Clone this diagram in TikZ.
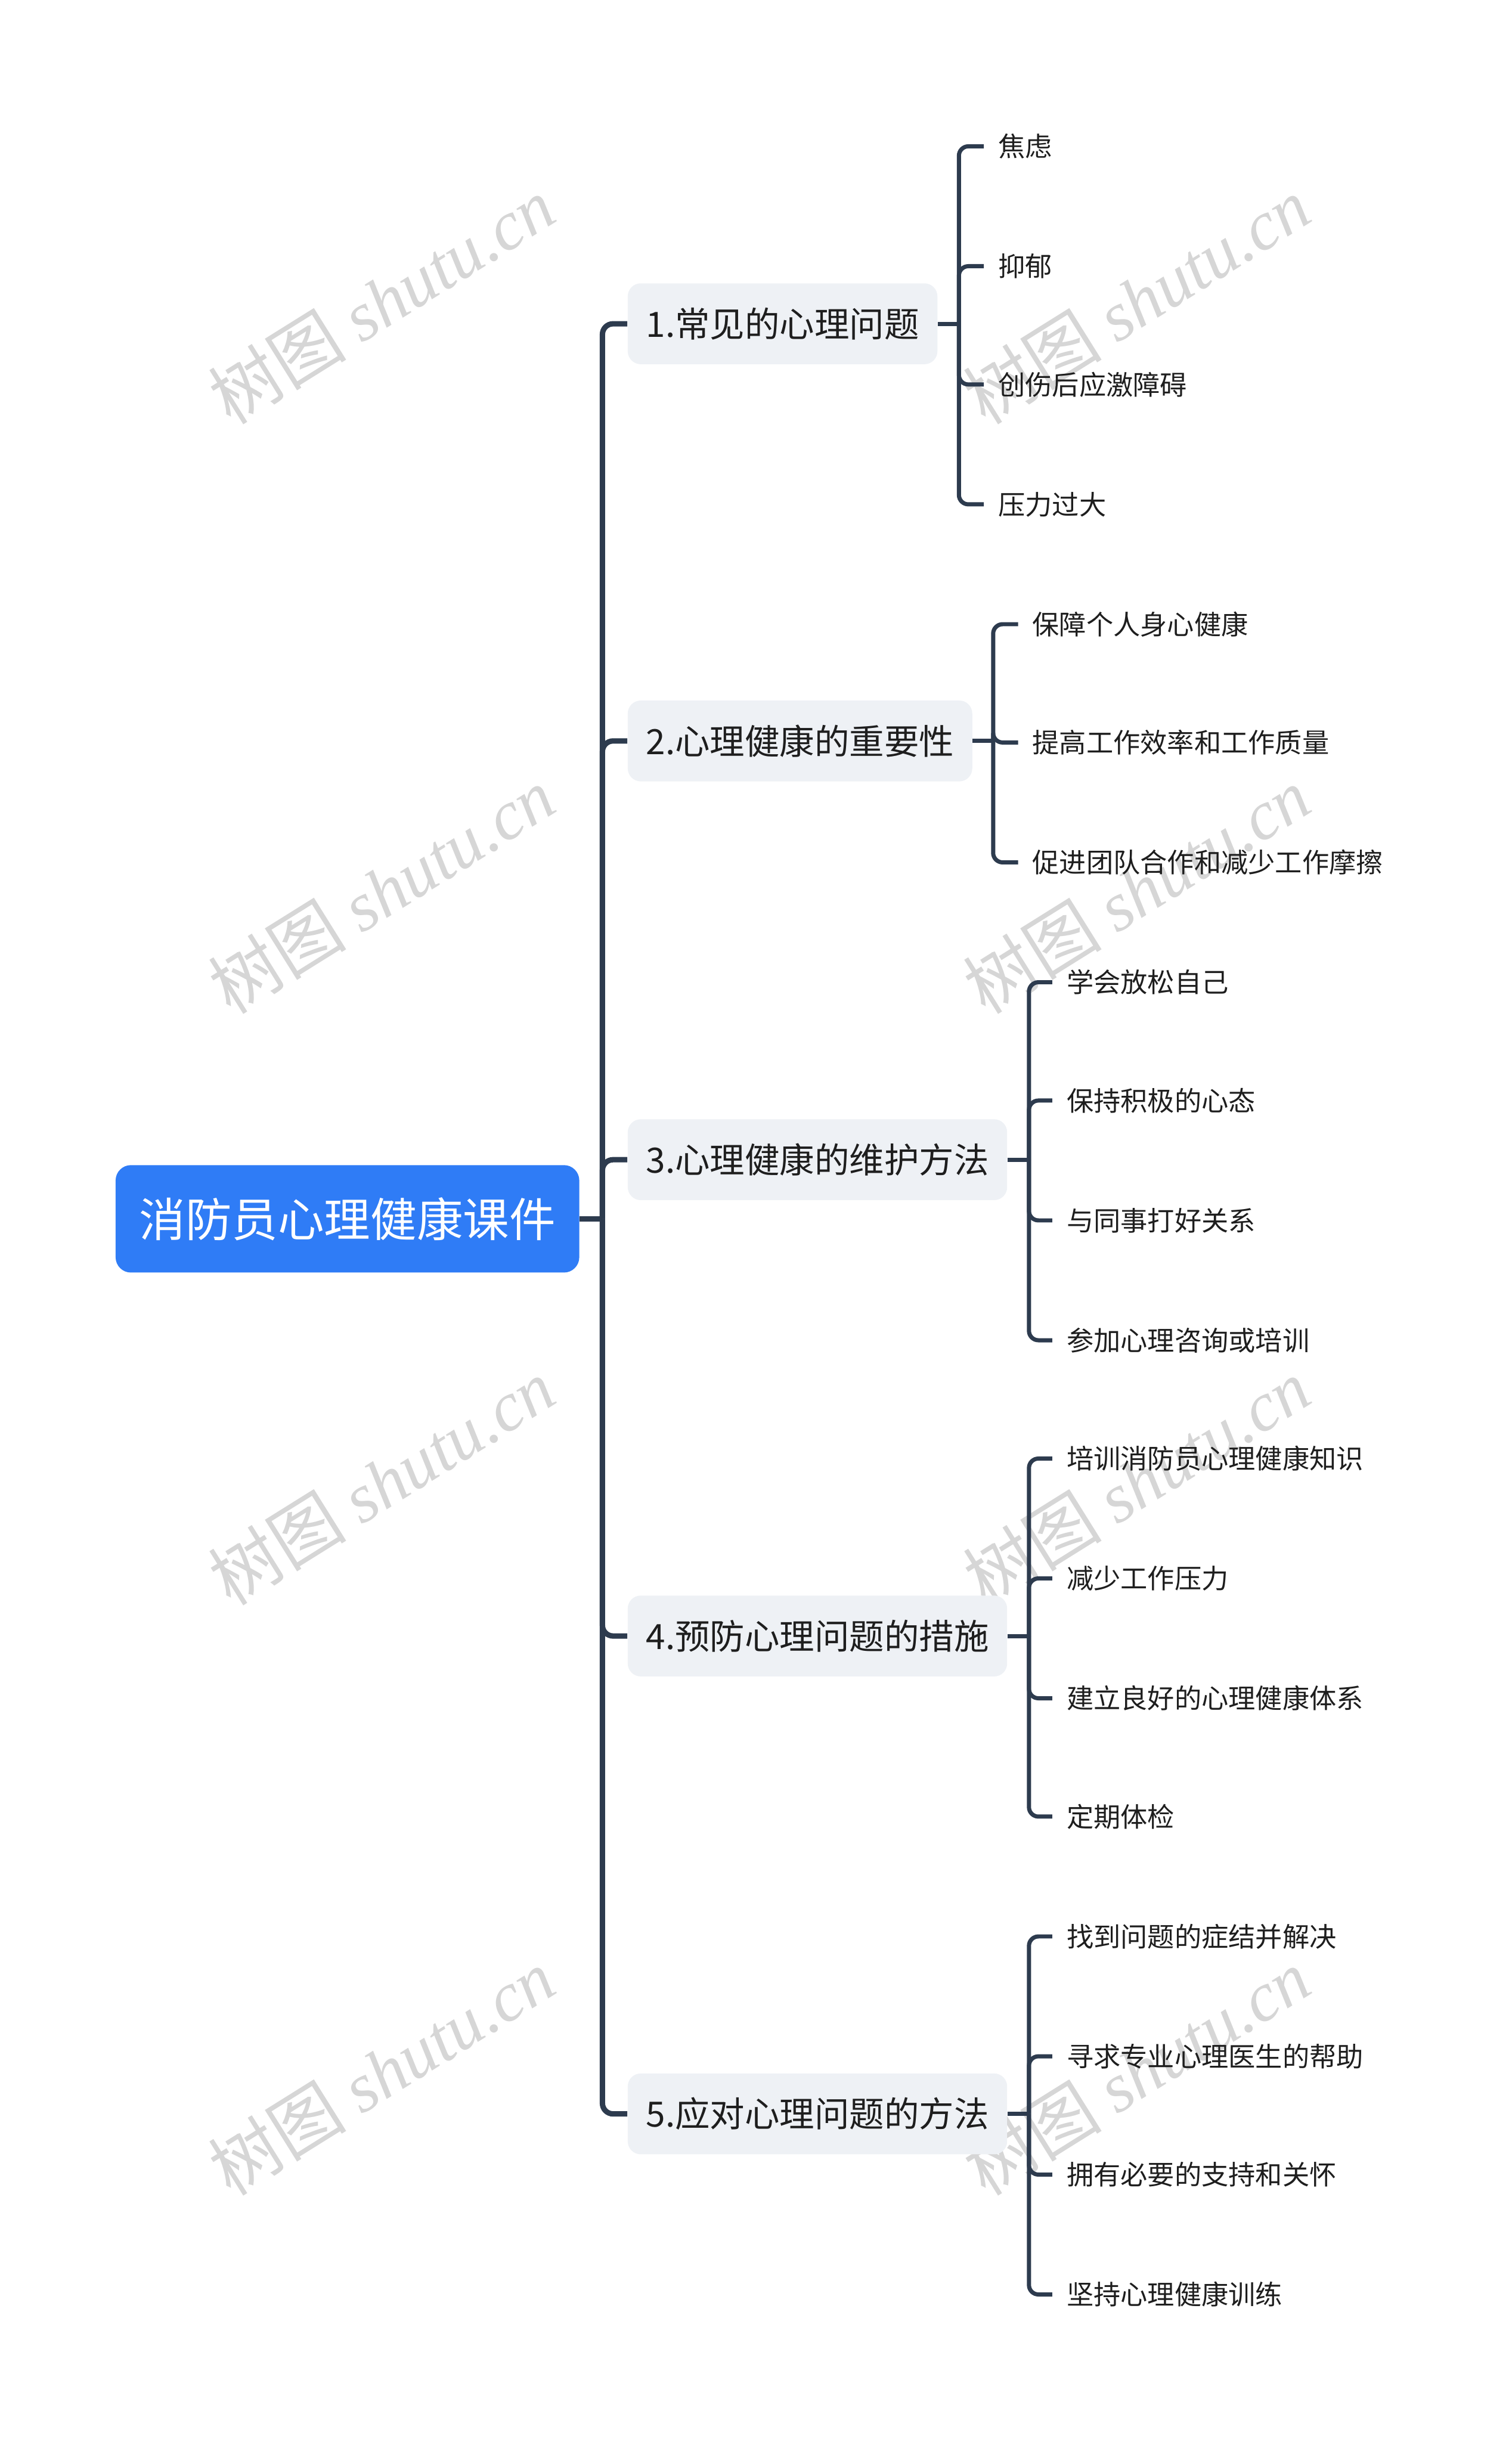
\documentclass[tikz,border=0pt]{standalone}
\usepackage{fontspec}
\setmainfont{Noto Sans CJK SC}
\newfontfamily\wmserif{Liberation Serif}
\definecolor{rootblue}{HTML}{2F7CF6}
\definecolor{branchfill}{HTML}{EEF1F5}
\definecolor{linec}{HTML}{2D3B4E}
\definecolor{txt}{HTML}{1E1E1E}
\definecolor{wmc}{HTML}{D6D6D6}
\begin{document}
\begin{tikzpicture}[x=0.026365cm,y=-0.026365cm,
  rootnode/.style={fill=rootblue, text=white, rounded corners=0.26cm, minimum height=1.82cm, inner xsep=0.4cm, font=\fontsize{22.3}{26}\selectfont, anchor=west},
  branchnode/.style={fill=branchfill, text=txt, rounded corners=0.22cm, minimum height=1.37cm, inner xsep=0.31cm, font=\fontsize{16.8}{20}\selectfont, anchor=west},
  leafnode/.style={text=txt, inner xsep=0.237cm, inner ysep=2pt, font=\fontsize{13}{16}\selectfont, anchor=west},
  trunkline/.style={draw=linec, line width=2.6pt, rounded corners=0.18cm},
  leafline/.style={draw=linec, line width=2pt, rounded corners=0.16cm},
  wm/.style={text=wmc, rotate=32, font=\fontsize{33.5}{38}\selectfont}]
\useasboundingbox (0,0) rectangle (971,1568.8);
% watermarks
\foreach \wx/\wy [count=\i] in {245/193, 245/572, 245/952, 245/1331, 730/193, 730/572, 730/952, 730/1331}{
  \node[wm] (wm\i) at (\wx,\wy) {树图 {\wmserif\itshape shutu.cn}};
}
% root
\node[rootnode] (root) at (74,783) {消防员心理健康课件};
% branches
\node[branchnode] (b1) at (403,208) {1.常见的心理问题};
\node[branchnode] (b2) at (403,476) {2.心理健康的重要性};
\node[branchnode] (b3) at (403,745) {3.心理健康的维护方法};
\node[branchnode] (b4) at (403,1051) {4.预防心理问题的措施};
\node[branchnode] (b5) at (403,1358) {5.应对心理问题的方法};
% leaves
\node[leafnode] (l11) at (632,94) {焦虑};
\node[leafnode] (l12) at (632,171) {抑郁};
\node[leafnode] (l13) at (632,247) {创伤后应激障碍};
\node[leafnode] (l14) at (632,324) {压力过大};
\node[leafnode] (l21) at (654,401) {保障个人身心健康};
\node[leafnode] (l22) at (654,477) {提高工作效率和工作质量};
\node[leafnode] (l23) at (654,554) {促进团队合作和减少工作摩擦};
\node[leafnode] (l31) at (676,631) {学会放松自己};
\node[leafnode] (l32) at (676,707) {保持积极的心态};
\node[leafnode] (l33) at (676,784) {与同事打好关系};
\node[leafnode] (l34) at (676,861) {参加心理咨询或培训};
\node[leafnode] (l41) at (676,937) {培训消防员心理健康知识};
\node[leafnode] (l42) at (676,1014) {减少工作压力};
\node[leafnode] (l43) at (676,1091) {建立良好的心理健康体系};
\node[leafnode] (l44) at (676,1167) {定期体检};
\node[leafnode] (l51) at (676,1244) {找到问题的症结并解决};
\node[leafnode] (l52) at (676,1321) {寻求专业心理医生的帮助};
\node[leafnode] (l53) at (676,1397) {拥有必要的支持和关怀};
\node[leafnode] (l54) at (676,1474) {坚持心理健康训练};
% junctions
\coordinate (j0) at (387,783);
\coordinate (j1) at (616,208);
\coordinate (j2) at (638,476);
\coordinate (j3) at (661,745);
\coordinate (j4) at (661,1051);
\coordinate (j5) at (661,1358);
% root to branches
\draw[trunkline] (root.east) -- (j0);
\foreach \b in {b1,b2,b3,b4,b5}{
  \draw[trunkline] (j0) |- (\b.west);
}
% branches to leaves
\draw[leafline] (b1.east) -- (j1);
\foreach \l in {l11,l12,l13,l14}{ \draw[leafline] (j1) |- (\l.west); }
\draw[leafline] (b2.east) -- (j2);
\foreach \l in {l21,l22,l23}{ \draw[leafline] (j2) |- (\l.west); }
\draw[leafline] (b3.east) -- (j3);
\foreach \l in {l31,l32,l33,l34}{ \draw[leafline] (j3) |- (\l.west); }
\draw[leafline] (b4.east) -- (j4);
\foreach \l in {l41,l42,l43,l44}{ \draw[leafline] (j4) |- (\l.west); }
\draw[leafline] (b5.east) -- (j5);
\foreach \l in {l51,l52,l53,l54}{ \draw[leafline] (j5) |- (\l.west); }
\end{tikzpicture}
\end{document}
